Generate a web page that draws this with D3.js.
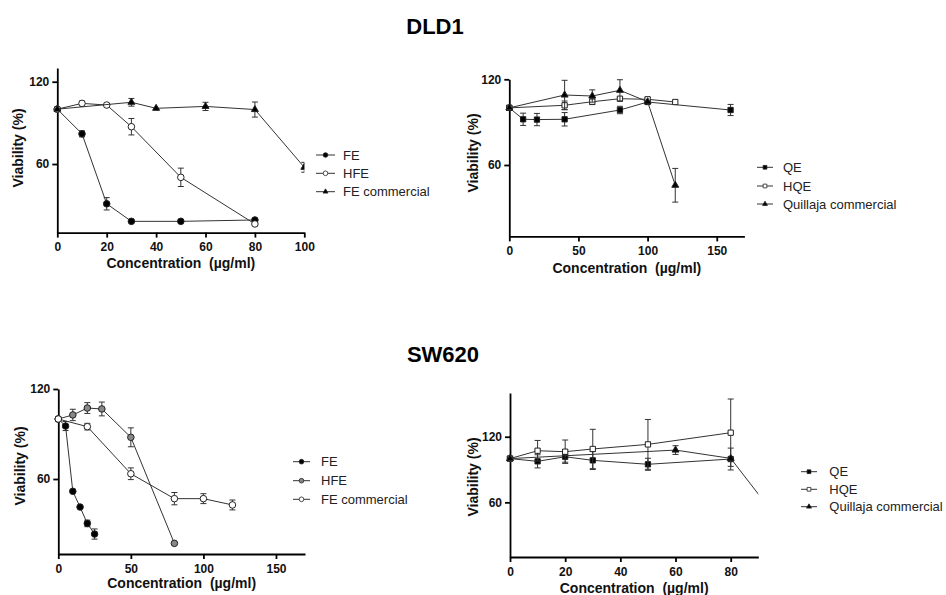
<!DOCTYPE html>
<html>
<head>
  <meta charset="UTF-8"/>
  <title>Viability DLD1 / SW620</title>
  <style>
    body { margin: 0; background: #fff; }
    svg { font-family: 'Liberation Sans', Arial, sans-serif; }
    .axis path, .axis line { stroke: #000; stroke-width: 1.8px; }
    .axis text { font-size: 12px; font-weight: bold; fill: #111; }
    .lbl { font-size: 14px; font-weight: bold; fill: #111; white-space: pre; }
    .title { font-size: 22px; font-weight: bold; fill: #000; }
    .leg { font-size: 13px; fill: #222; }
    .ser { fill: none; stroke: #333; stroke-width: 1px; }
    .err { stroke: #333; stroke-width: 1px; }
  </style>
  <script src="https://d3js.org/d3.v7.min.js"></script>
</head>
<body>
<svg width="946" height="595"></svg>
<script>
// ---- DLD1, fennel extracts ----
var dldFEConc   = [0, 10, 20, 30, 50, 80];
var dldFE       = [100, 82, 31, 18.2, 18.2, 19.2];
var dldFEErr    = [0, 2.2, 4.5, 0, 0, 0];
var dldHFEConc  = [0, 10, 20, 30, 50, 80];
var dldHFE      = [100, 104.2, 103, 87.2, 50.3, 16.3];
var dldHFEErr   = [0, 1.7, 0, 6, 6.7, 0];
var dldFECConc  = [0, 30, 40, 60, 80, 100];
var dldFEC      = [100, 105, 100.6, 102, 99.7, 57.6];
var dldFECErr   = [0, 2.8, 0, 3, 5.5, 3.6];

// ---- DLD1, quillaja extracts ----
var dldQEConc   = [0, 10, 20, 40, 80, 100, 160];
var dldQE       = [100, 92, 91.8, 92, 98.5, 104.1, 98.5];
var dldQEErr    = [0, 4.3, 4.3, 4.7, 2.6, 0, 3.9];
var dldHQEConc  = [0, 40, 60, 80, 100, 120];
var dldHQE      = [100, 101.8, 104.3, 106.4, 106, 104.1];
var dldHQEErr   = [0, 3, 2, 0, 1, 0];
var dldQCConc   = [0, 40, 60, 80, 100, 120];
var dldQC       = [100, 109, 108.3, 112.3, 104.3, 45.8];
var dldQCErr    = [0, 10.3, 4.3, 7.4, 0, 11.8];

// ---- SW620, fennel extracts ----
var swFEConc    = [0, 5, 10, 15, 20, 25];
var swFE        = [100, 95.3, 51.8, 41.3, 30.4, 23.3];
var swFEErr     = [0, 3, 0, 0, 2.2, 3.4];
var swHFEConc   = [0, 10, 20, 30, 50, 80];
var swHFE       = [100, 102.7, 107.3, 106.7, 87.8, 17.1];
var swHFEErr    = [0, 3.8, 3.6, 4.6, 6.3, 0];
var swFECConc   = [0, 20, 50, 80, 100, 120];
var swFEC       = [100, 94.9, 63.5, 46.9, 46.9, 42.7];
var swFECErr    = [0, 2.2, 3.9, 4.1, 3.3, 3.3];

// ---- SW620, quillaja extracts ----
var swQEConc    = [0, 10, 20, 30, 50, 80];
var swQE        = [100, 97.5, 101.7, 98.4, 94.8, 99.6];
var swQEErr     = [0, 6, 5, 8.4, 5.5, 10];
var swHQEConc   = [0, 10, 20, 30, 50, 80];
var swHQE       = [100, 107.2, 106.3, 108.8, 113, 123.7];
var swHQEErr    = [0, 9.4, 10.7, 18, 22.8, 30.8];
var swQCConc    = [0, 60, 80, 100];
var swQC        = [100, 107.8, 100.2, 35];
var swQCErr     = [0, 4, 0, 0];

var titles = ["DLD1", "SW620"];
var fennelNames = ["FE", "HFE", "FE commercial"];
var quillajaNames = ["QE", "HQE", "Quillaja commercial"];

var svg = d3.select("svg");

svg.append("text").attr("class", "title").attr("x", 435).attr("y", 34)
  .attr("text-anchor", "middle").text(titles[0]);
svg.append("text").attr("class", "title").attr("x", 443).attr("y", 362)
  .attr("text-anchor", "middle").text(titles[1]);

function series(name, xs, ys, es, shape, fill) {
  return { name: name, shape: shape, fill: fill,
    pts: xs.map(function(x, i) { return { x: x, y: ys[i], e: es[i] }; }) };
}

function marker(shape, size) {
  var t = shape == "circle" ? d3.symbolCircle : shape == "square" ? d3.symbolSquare : d3.symbolTriangle;
  return d3.symbol().type(t).size(size);
}
var sizes = { circle: 34, square: 28, triangle: 21 };

var clipId = 0;

function panel(p) {
  var x = d3.scaleLinear().domain(p.xd).range(p.xr);
  var y = d3.scaleLinear().domain(p.yd).range(p.yr);
  var g = svg.append("g");

  g.append("g").attr("class", "axis")
    .attr("transform", "translate(0," + p.yr[0] + ")")
    .call(d3.axisBottom(x).tickValues(p.xt).tickSize(5).tickPadding(5).tickSizeOuter(0));
  g.append("g").attr("class", "axis")
    .attr("transform", "translate(" + p.xr[0] + ",0)")
    .call(d3.axisLeft(y).tickValues([60, 120]).tickSize(5).tickPadding(3).tickSizeOuter(0));

  clipId++;
  g.append("clipPath").attr("id", "c" + clipId).append("rect")
    .attr("x", p.xr[0] - 10).attr("y", 0)
    .attr("width", p.xr[1] - p.xr[0] + 10).attr("height", 595);
  var plot = g.append("g").attr("clip-path", "url(#c" + clipId + ")");

  var line = d3.line().x(function(d) { return x(d.x); }).y(function(d) { return y(d.y); });

  p.series.forEach(function(s) {
    plot.append("path").attr("class", "ser").attr("d", line(s.pts));
    s.pts.filter(function(d) { return d.e > 0; }).forEach(function(d) {
      var cx = x(d.x), y0 = y(d.y - d.e), y1 = y(d.y + d.e);
      plot.append("line").attr("class", "err").attr("x1", cx).attr("x2", cx).attr("y1", y0).attr("y2", y1);
      plot.append("line").attr("class", "err").attr("x1", cx - 3).attr("x2", cx + 3).attr("y1", y0).attr("y2", y0);
      plot.append("line").attr("class", "err").attr("x1", cx - 3).attr("x2", cx + 3).attr("y1", y1).attr("y2", y1);
    });
    plot.selectAll(null).data(s.pts).enter().append("path")
      .attr("transform", function(d) { return "translate(" + x(d.x) + "," + y(d.y) + ")"; })
      .attr("d", marker(s.shape, sizes[s.shape])())
      .attr("fill", s.fill).attr("stroke", "#222").attr("stroke-width", 1);
  });

  // legend
  p.series.forEach(function(s, i) {
    var ly = p.leg.y[i];
    g.append("line").attr("class", "ser").attr("x1", p.leg.x0).attr("x2", p.leg.x1)
      .attr("y1", ly).attr("y2", ly);
    g.append("path").attr("transform", "translate(" + (p.leg.x0 + p.leg.x1) / 2 + "," + ly + ")")
      .attr("d", marker(s.shape, sizes[s.shape] * 0.5)())
      .attr("fill", s.fill).attr("stroke", "#222").attr("stroke-width", 0.8);
    g.append("text").attr("class", "leg").attr("x", p.leg.tx).attr("y", ly + 4.5).text(s.name);
  });

  var cx = (p.xr[0] + p.xr[1]) / 2;
  g.append("text").attr("class", "lbl").attr("x", cx).attr("y", p.xlabY)
    .attr("text-anchor", "middle").text("Concentration  (\u00b5g/ml)");
  g.append("text").attr("class", "lbl").attr("text-anchor", "middle").attr("dy", "0.35em")
    .attr("transform", "translate(" + p.ylab[0] + "," + p.ylab[1] + ") rotate(-90)")
    .text("Viability (%)");
}

panel({
  xd: [0, 100], xr: [57.3, 304.3], yd: [10, 130], yr: [232.6, 68], xt: [0, 20, 40, 60, 80, 100],
  series: [
    series(fennelNames[0], dldFEConc, dldFE, dldFEErr, "circle", "#000"),
    series(fennelNames[1], dldHFEConc, dldHFE, dldHFEErr, "circle", "#fff"),
    series(fennelNames[2], dldFECConc, dldFEC, dldFECErr, "triangle", "#000")
  ],
  leg: { x0: 316, x1: 335, tx: 343, y: [155, 173.3, 191.7] },
  xlabY: 268, ylab: [18.3, 148]
});

panel({
  xd: [0, 170], xr: [509.3, 744.4], yd: [10, 120], yr: [236.4, 79.3], xt: [0, 50, 100, 150],
  series: [
    series(quillajaNames[0], dldQEConc, dldQE, dldQEErr, "square", "#000"),
    series(quillajaNames[1], dldHQEConc, dldHQE, dldHQEErr, "square", "#fff"),
    series(quillajaNames[2], dldQCConc, dldQC, dldQCErr, "triangle", "#000")
  ],
  leg: { x0: 757, x1: 773, tx: 783, y: [167.3, 186, 204] },
  xlabY: 273, ylab: [472.7, 153]
});

panel({
  xd: [0, 170], xr: [58.3, 305], yd: [10, 120], yr: [554, 389], xt: [0, 50, 100, 150],
  series: [
    series(fennelNames[0], swFEConc, swFE, swFEErr, "circle", "#000"),
    series(fennelNames[1], swHFEConc, swHFE, swHFEErr, "circle", "#888"),
    series(fennelNames[2], swFECConc, swFEC, swFECErr, "circle", "#fff")
  ],
  leg: { x0: 293, x1: 310, tx: 321, y: [461.7, 480.7, 499.3] },
  xlabY: 588, ylab: [20, 466]
});

panel({
  xd: [0, 90], xr: [510, 758.3], yd: [10, 160], yr: [557, 393], xt: [0, 20, 40, 60, 80],
  series: [
    series(quillajaNames[0], swQEConc, swQE, swQEErr, "square", "#000"),
    series(quillajaNames[1], swHQEConc, swHQE, swHQEErr, "square", "#fff"),
    series(quillajaNames[2], swQCConc, swQC, swQCErr, "triangle", "#000")
  ],
  leg: { x0: 801, x1: 817, tx: 829.3, y: [471.7, 489.3, 506.7] },
  xlabY: 593, ylab: [472.7, 477]
});
</script>
</body>
</html>
